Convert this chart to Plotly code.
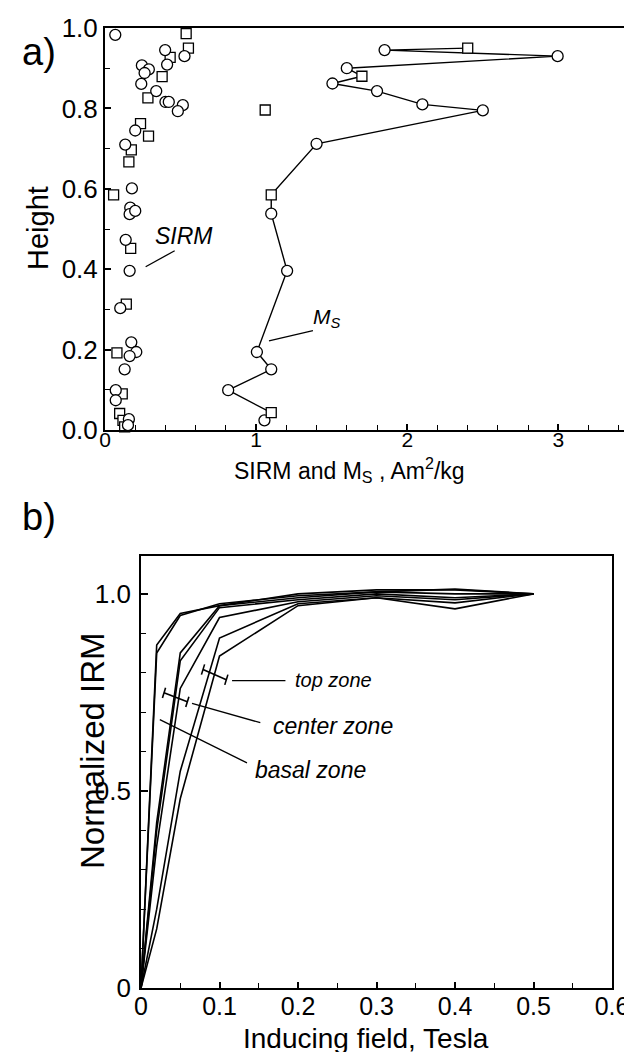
import plotly.graph_objects as go

# ---------------- Panel a data ----------------
ms_x = [1.055, 1.10, 0.815, 1.10, 1.005, 1.205, 1.10, 1.10, 1.40, 2.50, 2.10, 1.80, 1.505, 1.70, 1.60, 2.995, 1.85, 2.40]
ms_y = [0.024, 0.043, 0.099, 0.151, 0.194, 0.396, 0.538, 0.585, 0.712, 0.795, 0.81, 0.843, 0.862, 0.88, 0.90, 0.93, 0.945, 0.95]
ms_sym = ["circle", "square", "circle", "circle", "circle", "circle", "circle", "square", "circle", "circle",
          "circle", "circle", "circle", "square", "circle", "circle", "circle", "square"]

sirm_circ_x = [0.068, 0.398, 0.526, 0.411, 0.244, 0.290, 0.262, 0.240, 0.339, 0.400, 0.422, 0.515, 0.482,
               0.200, 0.134, 0.178, 0.167, 0.163, 0.200, 0.137, 0.163, 0.101, 0.174, 0.207, 0.163, 0.130,
               0.071, 0.071, 0.158, 0.152]
sirm_circ_y = [0.983, 0.945, 0.930, 0.909, 0.907, 0.897, 0.888, 0.861, 0.843, 0.816, 0.816, 0.808, 0.793,
               0.745, 0.710, 0.601, 0.553, 0.537, 0.545, 0.473, 0.396, 0.303, 0.218, 0.194, 0.184, 0.151,
               0.099, 0.074, 0.027, 0.012]
sirm_sq_x = [0.537, 0.552, 0.431, 0.378, 0.284, 1.06, 0.235, 0.288, 0.174, 0.158, 0.057, 0.170, 0.141,
             0.079, 0.114, 0.097, 0.119, 0.130]
sirm_sq_y = [0.986, 0.950, 0.927, 0.879, 0.826, 0.796, 0.762, 0.731, 0.697, 0.667, 0.585, 0.452, 0.313,
             0.192, 0.090, 0.041, 0.024, 0.008]

# ---------------- Panel b data ----------------
fields = [0, 0.02, 0.05, 0.1, 0.2, 0.3, 0.4, 0.5]
irm_curves = {
    "basal1": [0, 0.87, 0.95, 0.97, 1.00, 1.01, 1.01, 1.0],
    "basal2": [0, 0.85, 0.945, 0.975, 0.995, 1.005, 1.0, 1.0],
    "center1": [0, 0.42, 0.85, 0.97, 0.99, 1.005, 1.012, 1.0],
    "center2": [0, 0.40, 0.83, 0.965, 0.985, 1.0, 0.99, 1.0],
    "center3": [0, 0.36, 0.76, 0.94, 0.98, 0.995, 0.985, 1.0],
    "top1": [0, 0.20, 0.55, 0.888, 0.975, 0.99, 0.962, 1.0],
    "top2": [0, 0.15, 0.48, 0.842, 0.97, 0.99, 0.977, 1.0],
}
# zone range bars (field, IRM) ends
top_bar = [(0.079, 0.808), (0.1087, 0.782)]
center_bar = [(0.0293, 0.749), (0.059, 0.726)]

FONT = "Liberation Sans, Arial, Helvetica, sans-serif"
W, H = 632, 1052

def px(x):
    return x / W

def py(y):
    return 1 - y / H

fig = go.Figure()

# Panel a traces
fig.add_trace(go.Scatter(x=ms_x, y=ms_y, mode="lines", xaxis="x", yaxis="y",
                         line=dict(color="black", width=1.4), showlegend=False, hoverinfo="skip"))
for sym, size in (("circle", 11), ("square", 10)):
    xs = [x for x, s in zip(ms_x, ms_sym) if s == sym]
    ys = [y for y, s in zip(ms_y, ms_sym) if s == sym]
    fig.add_trace(go.Scatter(x=xs, y=ys, mode="markers", xaxis="x", yaxis="y",
                             marker=dict(symbol=sym, size=size, color="#ffffff", opacity=1,
                                         line=dict(color="black", width=1.3)),
                             cliponaxis=False, showlegend=False))
fig.add_trace(go.Scatter(x=sirm_sq_x, y=sirm_sq_y, mode="markers", xaxis="x", yaxis="y",
                         marker=dict(symbol="square", size=10, color="#ffffff",
                                     line=dict(color="black", width=1.3)),
                         cliponaxis=False, showlegend=False))
fig.add_trace(go.Scatter(x=sirm_circ_x, y=sirm_circ_y, mode="markers", xaxis="x", yaxis="y",
                         marker=dict(symbol="circle", size=11, color="#ffffff",
                                     line=dict(color="black", width=1.3)),
                         cliponaxis=False, showlegend=False))

# Panel b traces
for name, vals in irm_curves.items():
    fig.add_trace(go.Scatter(x=fields, y=vals, mode="lines", xaxis="x2", yaxis="y2",
                             line=dict(color="black", width=1.6), showlegend=False, name=name))

shapes = []
# leader lines panel a
shapes.append(dict(type="line", xref="x", yref="y", x0=0.269, y0=0.406, x1=0.461, y1=0.446,
                   line=dict(color="black", width=1.3)))
shapes.append(dict(type="line", xref="x", yref="y", x0=1.085, y0=0.222, x1=1.376, y1=0.247,
                   line=dict(color="black", width=1.3)))
# zone bars panel b
for bar in (top_bar, center_bar):
    (xa, ya), (xb, yb) = bar
    shapes.append(dict(type="line", xref="x2", yref="y2", x0=xa, y0=ya, x1=xb, y1=yb,
                       line=dict(color="black", width=1.6)))
    for (xc, yc) in bar:
        shapes.append(dict(type="line", xref="x2", yref="y2", x0=xc - 0.002, y0=yc - 0.013,
                           x1=xc + 0.002, y1=yc + 0.013, line=dict(color="black", width=1.6)))
# leader lines panel b
shapes.append(dict(type="line", xref="x2", yref="y2", x0=0.116, y0=0.78, x1=0.184, y1=0.78,
                   line=dict(color="black", width=1.3)))
shapes.append(dict(type="line", xref="x2", yref="y2", x0=0.065, y0=0.722, x1=0.152, y1=0.673,
                   line=dict(color="black", width=1.3)))
shapes.append(dict(type="line", xref="x2", yref="y2", x0=0.024, y0=0.681, x1=0.135, y1=0.571,
                   line=dict(color="black", width=1.3)))

ann = []
def A(text, x, y, size, xref="paper", yref="paper", angle=0, xanchor="center", italic=False):
    ann.append(dict(text=("<i>%s</i>" % text) if italic else text, x=x, y=y, xref=xref, yref=yref,
                    showarrow=False, textangle=angle, xanchor=xanchor, yanchor="middle",
                    font=dict(family=FONT, size=size, color="black")))

A("a)", px(31), py(44), 38)
A("Height", px(30), py(220), 29, angle=-90)
A("SIRM and M<sub>S</sub> , Am<sup>2</sup>/kg", px(341), py(462), 23)
A("SIRM", 0.52, 0.483, 23, xref="x", yref="y", italic=True)
A("M<sub>S</sub>", 1.468, 0.279, 21, xref="x", yref="y", italic=True)

A("b)", px(31), py(509), 38)
A("Normalized IRM", px(84), py(742), 33, angle=-90)
A("Inducing field, Tesla", px(358), py(1030), 28)
A("top zone", 0.194, 0.782, 20, xref="x2", yref="y2", xanchor="left", italic=True)
A("center zone", 0.165, 0.665, 23, xref="x2", yref="y2", xanchor="left", italic=True)
A("basal zone", 0.143, 0.554, 23, xref="x2", yref="y2", xanchor="left", italic=True)

def tf(size):
    return dict(family=FONT, size=size, color="black")

common = dict(showgrid=False, zeroline=False, automargin=False, tickcolor="black")

fig.update_layout(
    width=W, height=H, autosize=False,
    margin=dict(l=0, r=0, t=0, b=0, pad=0),
    paper_bgcolor="white", plot_bgcolor="white",
    shapes=shapes, annotations=ann,
    xaxis=dict(domain=[px(97), 1.0], range=[0, 3.54], anchor="y",
               showline=True, linecolor="black", linewidth=2, mirror=True,
               tickmode="linear", tick0=0, dtick=1, ticks="inside", ticklen=6, tickwidth=1.5,
               tickfont=tf(21), ticklabelstandoff=-10,
               minor=dict(tickmode="linear", tick0=0, dtick=0.2, ticks="inside", ticklen=5,
                          tickwidth=1.2, tickcolor="black"), **common),
    yaxis=dict(domain=[py(422), py(20)], range=[0, 1.0], anchor="x",
               showline=True, linecolor="black", linewidth=2, mirror=False,
               tickmode="linear", tick0=0, dtick=0.2, tickformat=".1f",
               ticks="inside", ticklen=6, tickwidth=1.5, tickfont=tf(26),
               minor=dict(tickmode="linear", tick0=0, dtick=0.1, ticks="inside", ticklen=5,
                          tickwidth=1.2, tickcolor="black"), **common),
    xaxis2=dict(domain=[px(133), px(604)], range=[0, 0.6], anchor="y2",
                showline=True, linecolor="black", linewidth=1.6, mirror=True,
                tickmode="array", tickvals=[0, 0.1, 0.2, 0.3, 0.4, 0.5, 0.6],
                ticktext=["0", "0.1", "0.2", "0.3", "0.4", "0.5", "0.6"],
                ticks="inside", ticklen=6, tickwidth=1.5, tickfont=tf(25), ticklabelstandoff=-5,
                minor=dict(tickmode="linear", tick0=0, dtick=0.05, ticks="inside", ticklen=5,
                           tickwidth=1.2, tickcolor="black"), **common),
    yaxis2=dict(domain=[py(980), py(548)], range=[0, 1.096], anchor="x2",
                showline=True, linecolor="black", linewidth=1.6, mirror=True,
                tickmode="array", tickvals=[0, 0.5, 1.0], ticktext=["0", "0.5", "1.0"],
                ticks="inside", ticklen=7, tickwidth=1.5, tickfont=tf(26), ticklabelstandoff=3,
                minor=dict(tickmode="linear", tick0=0, dtick=0.1, ticks="inside", ticklen=5,
                           tickwidth=1.2, tickcolor="black"), **common),
)

fig.write_html("out.html")
